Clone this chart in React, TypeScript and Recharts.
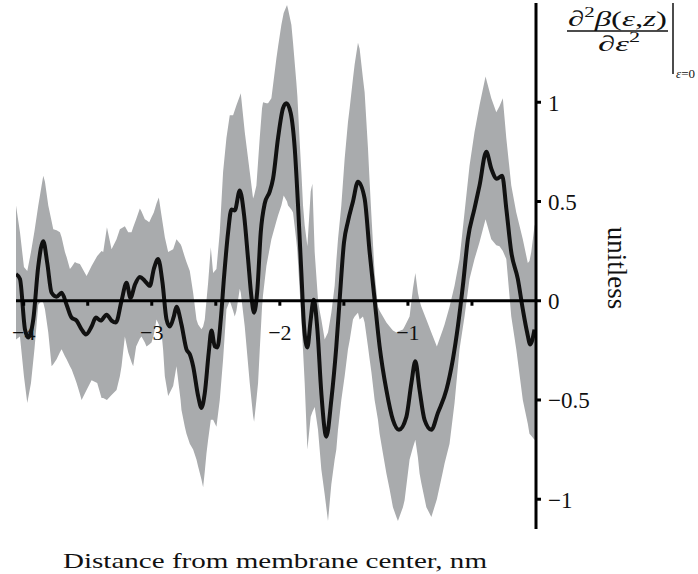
import React from 'react';
import { ComposedChart, Area, Line, XAxis, YAxis, ReferenceLine, ReferenceDot } from 'recharts';

// Grey uncertainty band: x (nm), lower bound, upper bound
const bandX = [
  -4.06, -4.029, -3.998, -3.972, -3.943, -3.916, -3.886, -3.86, -3.847, -3.834, -3.808, -3.782, -3.769, -3.743,
  -3.717, -3.704, -3.678, -3.665, -3.639, -3.626, -3.6, -3.587, -3.561, -3.548, -3.509, -3.47, -3.426, -3.392,
  -3.379, -3.35, -3.314, -3.275, -3.249, -3.236, -3.21, -3.184, -3.158, -3.145, -3.122, -3.093, -3.08, -3.054,
  -3.041, -3.02, -3.002, -2.984, -2.963, -2.945, -2.924, -2.911, -2.898, -2.872, -2.833, -2.807, -2.775, -2.768,
  -2.742, -2.729, -2.703, -2.677, -2.651, -2.638, -2.612, -2.599, -2.586, -2.573, -2.56, -2.539, -2.521, -2.495,
  -2.469, -2.443, -2.417, -2.391, -2.365, -2.352, -2.339, -2.313, -2.305, -2.274, -2.235, -2.209, -2.201, -2.183,
  -2.17, -2.157, -2.139, -2.131, -2.105, -2.092, -2.066, -2.027, -2.014, -1.988, -1.97, -1.944, -1.936, -1.91,
  -1.897, -1.871, -1.863, -1.845, -1.832, -1.819, -1.806, -1.785, -1.759, -1.746, -1.728, -1.702, -1.689, -1.676,
  -1.65, -1.624, -1.598, -1.572, -1.559, -1.546, -1.52, -1.494, -1.468, -1.455, -1.429, -1.416, -1.39, -1.377,
  -1.351, -1.338, -1.312, -1.299, -1.285, -1.26, -1.234, -1.221, -1.195, -1.168, -1.143, -1.117, -1.09, -1.078,
  -1.039, -1.026, -0.987, -0.961, -0.942, -0.922, -0.909, -0.895, -0.856, -0.817, -0.774, -0.727, -0.714, -0.675,
  -0.636, -0.597, -0.558, -0.519, -0.48, -0.441, -0.394, -0.349, -0.31, -0.285, -0.259, -0.232, -0.193, -0.154,
  -0.103, -0.064, -0.051, -0.037, -0.012, 0,
];
const bandUpper = [
  0.48, 0.345, 0.17, 0.15, 0.245, 0.35, 0.48, 0.58, 0.63, 0.6, 0.48, 0.4, 0.36, 0.355,
  0.345, 0.32, 0.245, 0.22, 0.16, 0.17, 0.195, 0.19, 0.185, 0.17, 0.125, 0.175, 0.225, 0.25,
  0.245, 0.37, 0.26, 0.31, 0.36, 0.365, 0.375, 0.345, 0.345, 0.37, 0.41, 0.465, 0.45, 0.41,
  0.405, 0.395, 0.42, 0.445, 0.49, 0.52, 0.43, 0.375, 0.32, 0.245, 0.26, 0.31, 0.285, 0.275,
  0.22, 0.195, 0.15, 0.04, -0.094, -0.12, -0.144, -0.13, -0.094, 0.0, 0.09, 0.27, 0.14, 0.16,
  0.345, 0.65, 0.82, 0.935, 0.935, 0.96, 0.985, 1.03, 1.045, 0.85, 0.65, 0.515, 0.53, 0.58,
  0.7, 0.82, 0.97, 1.0, 0.995, 0.995, 1.02, 1.22, 1.28, 1.39, 1.45, 1.49, 1.47, 1.39,
  1.3, 1.1, 1.03, 0.8, 0.65, 0.48, 0.38, 0.275, 0.55, 0.59, 0.245, 0.005, -0.05, -0.094,
  -0.195, -0.16, -0.06, 0.075, 0.2, 0.31, 0.48, 0.715, 0.9, 0.97, 1.12, 1.19, 1.3, 1.27,
  1.12, 1.05, 0.77, 0.6, 0.43, 0.14, -0.03, -0.05, -0.08, -0.11, -0.13, -0.15, -0.16, -0.155,
  -0.145, -0.13, -0.08, 0.06, 0.14, 0.04, 0.0, -0.03, -0.094, -0.16, -0.23, -0.145, -0.12, -0.03,
  0.075, 0.21, 0.445, 0.68, 0.85, 0.985, 1.13, 1.02, 0.95, 0.98, 1.02, 0.82, 0.58, 0.445,
  0.31, 0.19, 0.2, 0.245, 0.375, 0.4,
];
const bandLower = [
  -0.195, -0.18, -0.38, -0.515, -0.415, -0.245, -0.02, 0.0, -0.01, -0.043, -0.16, -0.33, -0.32, -0.295,
  -0.26, -0.245, -0.28, -0.295, -0.33, -0.345, -0.39, -0.415, -0.47, -0.5, -0.45, -0.4, -0.415, -0.49,
  -0.49, -0.5, -0.475, -0.45, -0.38, -0.33, -0.18, -0.26, -0.31, -0.33, -0.23, -0.19, -0.18, -0.21,
  -0.23, -0.22, -0.21, -0.17, -0.094, -0.12, -0.16, -0.25, -0.38, -0.48, -0.43, -0.33, -0.5, -0.55,
  -0.635, -0.67, -0.72, -0.75, -0.8, -0.835, -0.9, -0.94, -0.86, -0.77, -0.7, -0.6, -0.6, -0.635,
  -0.5, -0.295, -0.043, 0.0, -0.05, -0.08, -0.05, 0.06, 0.04, -0.13, -0.415, -0.58, -0.61, -0.5,
  -0.415, -0.25, -0.03, 0.03, 0.175, 0.22, 0.31, 0.4, 0.43, 0.48, 0.53, 0.5, 0.48, 0.46,
  0.445, 0.3, 0.245, 0.05, -0.094, -0.25, -0.415, -0.75, -0.585, -0.56, -0.535, -0.65, -0.75, -0.85,
  -0.975, -1.11, -0.925, -0.8, -0.75, -0.65, -0.5, -0.38, -0.245, -0.2, -0.094, -0.08, -0.06, -0.094,
  -0.08, -0.11, -0.23, -0.295, -0.36, -0.5, -0.6, -0.67, -0.77, -0.87, -0.95, -1.04, -1.09, -1.11,
  -1.04, -1.005, -0.8, -0.74, -0.7, -0.79, -0.87, -0.92, -1.04, -1.09, -1.0, -0.86, -0.82, -0.72,
  -0.515, -0.245, -0.08, 0.11, 0.21, 0.295, 0.41, 0.31, 0.28, 0.275, 0.25, 0.21, -0.08, -0.245,
  -0.5, -0.62, -0.67, -0.68, -0.7, -0.7,
];

// Mean curve
const curveX = [
  -4.06, -4.029, -3.99, -3.964, -3.925, -3.886, -3.847, -3.816, -3.782, -3.743, -3.704, -3.665, -3.626, -3.587,
  -3.548, -3.514, -3.47, -3.436, -3.399, -3.353, -3.314, -3.28, -3.236, -3.197, -3.166, -3.132, -3.093, -3.054,
  -3.015, -2.984, -2.95, -2.916, -2.885, -2.859, -2.828, -2.807, -2.768, -2.729, -2.703, -2.677, -2.638, -2.612,
  -2.586, -2.555, -2.534, -2.508, -2.487, -2.461, -2.435, -2.404, -2.378, -2.352, -2.313, -2.279, -2.248, -2.222,
  -2.201, -2.175, -2.149, -2.118, -2.079, -2.053, -2.014, -1.975, -1.949, -1.915, -1.884, -1.858, -1.832, -1.811,
  -1.785, -1.759, -1.736, -1.707, -1.676, -1.637, -1.598, -1.559, -1.533, -1.499, -1.468, -1.429, -1.39, -1.338,
  -1.299, -1.26, -1.221, -1.168, -1.117, -1.07, -1.012, -0.973, -0.942, -0.909, -0.87, -0.817, -0.766, -0.7,
  -0.649, -0.61, -0.571, -0.532, -0.48, -0.441, -0.388, -0.349, -0.306, -0.264, -0.232, -0.193, -0.142, -0.103,
  -0.069, -0.045, -0.012,
];
const curveY = [
  0.134, 0.11, -0.144, -0.185, -0.094, 0.175, 0.3, 0.19, 0.04, 0.02, 0.04, -0.02, -0.085, -0.1,
  -0.144, -0.17, -0.13, -0.085, -0.1, -0.07, -0.1, -0.11, 0.0, 0.09, 0.015, 0.08, 0.12, 0.1,
  0.075, 0.16, 0.21, 0.09, -0.094, -0.13, -0.08, -0.03, -0.12, -0.245, -0.27, -0.33, -0.48, -0.54,
  -0.465, -0.26, -0.15, -0.23, -0.235, -0.094, 0.125, 0.345, 0.46, 0.455, 0.555, 0.43, 0.21, 0.02,
  -0.06, 0.06, 0.345, 0.49, 0.55, 0.615, 0.82, 0.97, 0.995, 0.945, 0.77, 0.48, 0.14, -0.13,
  -0.235, -0.094, 0.005, -0.144, -0.465, -0.685, -0.5, -0.23, 0.005, 0.295, 0.4, 0.5, 0.6, 0.515,
  0.245, 0.005, -0.23, -0.45, -0.6, -0.65, -0.585, -0.415, -0.305, -0.45, -0.6, -0.65, -0.565, -0.45,
  -0.295, -0.13, 0.075, 0.31, 0.465, 0.58, 0.75, 0.665, 0.615, 0.63, 0.465, 0.245, 0.11, -0.043,
  -0.16, -0.22, -0.145,
];

const xTicks = [-4, -3.5, -3, -2.5, -2, -1.5, -1, -0.5];
const xTickLabels = ['\u22124', '', '\u22123', '', '\u22122', '', '\u22121', ''];
const yTicks = [-1, -0.5, 0, 0.5, 1];
const yTickLabels = ['\u22121', '\u22120.5', '0', '0.5', '1'];

const xLabel = 'Distance from membrane center, nm';
const yLabel = 'unitless';

const bandData = bandX.map((x, i) => ({ x, band: [bandLower[i], bandUpper[i]] }));
const curveData = curveX.map((x, i) => ({ x, value: curveY[i] }));

const FONT = "'Liberation Serif', 'Times New Roman', serif";

const YTick = (props: any) => {
  const { x, y, payload } = props;
  const idx = yTicks.indexOf(payload.value);
  return (
    <text x={x} y={y} dy="0.36em" textAnchor="start" fontFamily={FONT} fontSize={23} fill="#111">
      {idx >= 0 ? yTickLabels[idx] : payload.value}
    </text>
  );
};

const makeXTick = (label: string) => (props: any) => {
  const { cx, cy } = props;
  return (
    <g>
      <line x1={cx} y1={cy} x2={cx} y2={cy + 5} stroke="#000" strokeWidth={3} />
      {label ? (
        <text x={cx} y={cy + 39} textAnchor="middle" fontFamily={FONT} fontSize={22} fill="#111">
          {label}
        </text>
      ) : null}
    </g>
  );
};

export default function App() {
  return (
    <div style={{ position: 'absolute', left: 0, top: 0, width: 698, height: 574, background: '#fff' }}>
      <ComposedChart width={698} height={574} margin={{ top: 3, right: 102, bottom: 45, left: 16 }}>
        <XAxis type="number" dataKey="x" domain={[-4.06, 0]} hide allowDataOverflow />
        <YAxis
          orientation="right"
          type="number"
          domain={[-1.15, 1.5]}
          ticks={yTicks}
          interval={0}
          width={60}
          allowDataOverflow
          axisLine={{ stroke: '#000', strokeWidth: 3 }}
          tickLine={{ stroke: '#000', strokeWidth: 3 }}
          tickSize={5}
          tickMargin={7}
          tick={YTick}
        />
        <Area
          data={bandData}
          dataKey="band"
          type="linear"
          stroke="none"
          fill="#a9abad"
          fillOpacity={1}
          isAnimationActive={false}
          dot={false}
          activeDot={false}
        />
        <Line
          data={curveData}
          dataKey="value"
          type="monotone"
          stroke="#111"
          strokeWidth={4}
          dot={false}
          activeDot={false}
          isAnimationActive={false}
        />
        <ReferenceLine y={0} stroke="#000" strokeWidth={3} />
        {xTicks.map((v, i) => (
          <ReferenceDot key={v} x={v} y={0} r={2} ifOverflow="visible" shape={makeXTick(xTickLabels[i])} />
        ))}
        <text x={275} y={568} textAnchor="middle" fontFamily={FONT} fontSize={22} fill="#111" textLength={424} lengthAdjust="spacingAndGlyphs">
          {xLabel}
        </text>
        <text x={617} y={268} transform="rotate(90 617 268)" dy="0.33em" textAnchor="middle" fontFamily={FONT} fontSize={27} fill="#111">
          {yLabel}
        </text>
        <g fontFamily={FONT} fill="#111">
          <text x={568} y={26} fontSize={22} textLength={99} lengthAdjust="spacingAndGlyphs">
            ∂<tspan fontSize={14} dy={-9}>2</tspan>
            <tspan dy={9} fontStyle="italic">β</tspan>(<tspan fontStyle="italic">ε</tspan>,<tspan fontStyle="italic">z</tspan>)
          </text>
          <line x1={567} y1={31} x2={668} y2={31} stroke="#111" strokeWidth={1.5} />
          <text x={598} y={51} fontSize={22} textLength={42} lengthAdjust="spacingAndGlyphs">
            ∂<tspan fontStyle="italic">ε</tspan><tspan fontSize={14} dy={-9}>2</tspan>
          </text>
          <line x1={673} y1={3} x2={673} y2={74} stroke="#111" strokeWidth={1.5} />
          <text x={676} y={78} fontSize={13}>
            <tspan fontStyle="italic">ε</tspan>=0
          </text>
        </g>
      </ComposedChart>
    </div>
  );
}
